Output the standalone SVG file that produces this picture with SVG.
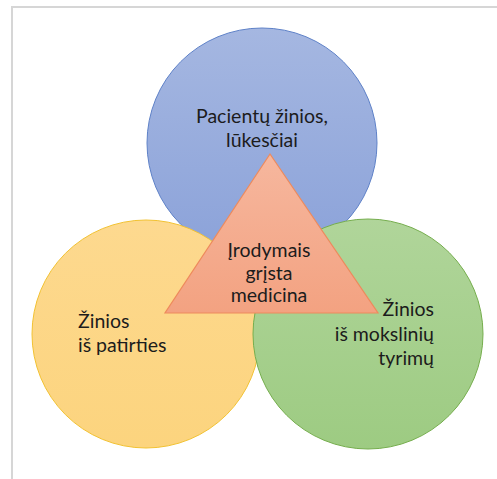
<svg xmlns="http://www.w3.org/2000/svg" width="497" height="479" viewBox="0 0 497 479">
<defs>
<linearGradient id="gBlue" x1="0" y1="0" x2="0" y2="1"><stop offset="0" stop-color="#A5B7E1"/><stop offset="1" stop-color="#8BA2D9"/></linearGradient>
<linearGradient id="gYel" x1="0" y1="0" x2="0" y2="1"><stop offset="0" stop-color="#FDD98F"/><stop offset="1" stop-color="#FCD47E"/></linearGradient>
<linearGradient id="gGrn" x1="0" y1="0" x2="0" y2="1"><stop offset="0" stop-color="#B0D59A"/><stop offset="1" stop-color="#9DCB82"/></linearGradient>
<linearGradient id="gTri" x1="0" y1="0" x2="0" y2="1"><stop offset="0" stop-color="#F6B79E"/><stop offset="1" stop-color="#F3A281"/></linearGradient>
<style>
.t{font-family:Lato,"Open Sans","Liberation Sans",sans-serif;font-size:19.5px;fill:#1C1C1C}
.m{text-anchor:middle}
.e{text-anchor:end}
</style>
</defs>
<rect x="12" y="7" width="500" height="480" fill="#FFFFFF" stroke="#D6D6D6" stroke-width="2"/>
<g id="patients">
<circle cx="262" cy="143" r="115" fill="url(#gBlue)" stroke="#5F82C8" stroke-width="1"/>
<text class="t m" x="262" y="123">Pacientų žinios,</text>
<text class="t m" x="262" y="147">lūkesčiai</text>
</g>
<g id="experience">
<circle cx="146" cy="334" r="114" fill="url(#gYel)" stroke="#F2C233" stroke-width="1"/>
<text class="t" x="78" y="328">Žinios</text>
<text class="t" x="78" y="352">iš patirties</text>
</g>
<g id="research">
<circle cx="368" cy="334" r="115" fill="url(#gGrn)" stroke="#76AE4E" stroke-width="1"/>
<text class="t e" x="434" y="316">Žinios</text>
<text class="t e" x="434" y="341">iš mokslinių</text>
<text class="t e" x="434" y="365">tyrimų</text>
</g>
<g id="ebm">
<polygon points="270,154 165,313 378,313" fill="url(#gTri)" stroke="#EE8A5C" stroke-width="1.2" stroke-linejoin="miter"/>
<text class="t m" x="269" y="257">Įrodymais</text>
<text class="t m" x="269" y="280">grįsta</text>
<text class="t m" x="269" y="302">medicina</text>
</g>
<g id="connectors"/>
</svg>
